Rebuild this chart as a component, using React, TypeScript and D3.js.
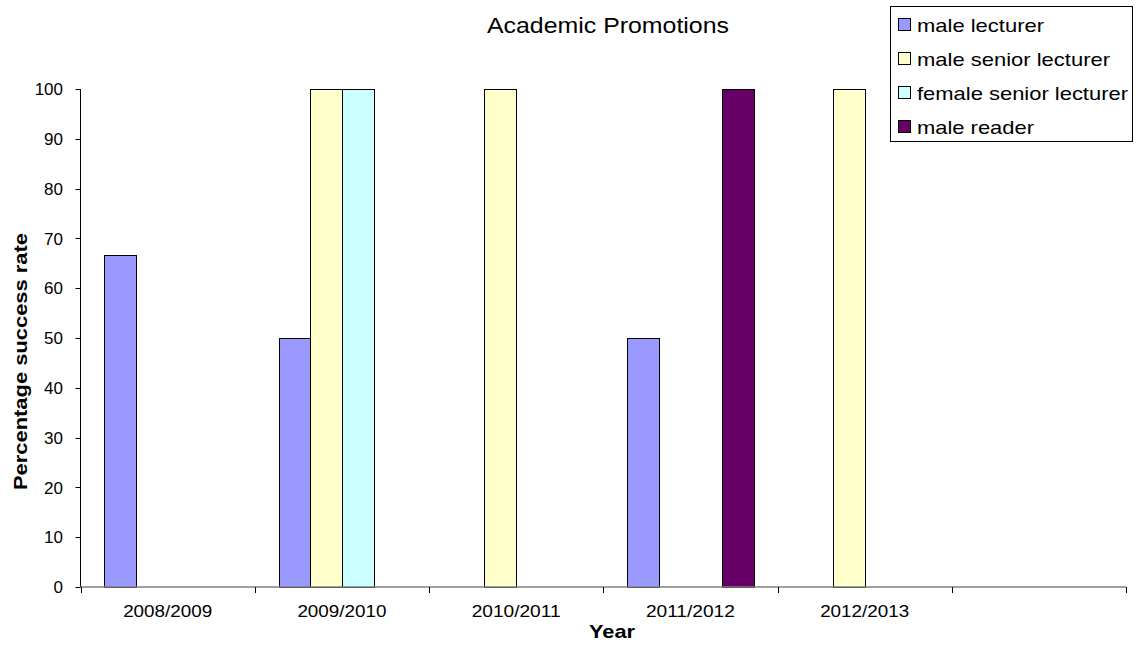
import React, {useEffect, useRef} from "react";
import * as d3 from "d3";

const years = ["2008/2009", "2009/2010", "2010/2011", "2011/2012", "2012/2013", ""];
const seriesNames = ["male lecturer", "male senior lecturer", "female senior lecturer", "male reader"];
const seriesColors = ["#9999FF", "#FFFFCC", "#CCFFFF", "#660066"];
// values per series, null = no bar
const maleLecturer = [66.7, 50, null, 50, null, null];
const maleSeniorLecturer = [null, 100, 100, null, 100, null];
const femaleSeniorLecturer = [null, 100, null, null, null, null];
const maleReader = [null, null, null, 100, null, null];
const yTicks = [0, 10, 20, 30, 40, 50, 60, 70, 80, 90, 100];
const legendWidths = [127, 193, 211, 117];

const App: React.FC = () => {
    const svgRef = useRef<SVGSVGElement | null>(null);

    useEffect(() => {
        if (!svgRef.current) return;
        const svg = d3.select(svgRef.current);
        svg.selectAll("*").remove();

        const font = "'Liberation Sans', Arial, sans-serif";
        const plot = {left: 80.5, right: 1126, top: 89, bottom: 587};
        const allSeries = [maleLecturer, maleSeniorLecturer, femaleSeniorLecturer, maleReader];

        const x = d3.scaleBand<string>()
            .domain(years.map((_, i) => String(i)))
            .range([plot.left, plot.right])
            .paddingInner(0)
            .paddingOuter(0);
        const x1 = d3.scaleBand<string>()
            .domain(seriesNames)
            .range([0, x.bandwidth()])
            .paddingOuter(0.75);
        const y = d3.scaleLinear().domain([0, 100]).range([plot.bottom, plot.top]);

        svg.append("rect").attr("width", 1142).attr("height", 650).attr("fill", "#fff");

        // bars
        allSeries.forEach((vals, si) => {
            svg.append("g")
                .selectAll("rect")
                .data(vals.map((v, i) => ({v, i})).filter((d) => d.v != null))
                .enter()
                .append("rect")
                .attr("x", (d) => Math.round((x(String(d.i)) ?? 0) + (x1(seriesNames[si]) ?? 0)) + 0.5)
                .attr("y", (d) => Math.round(y(d.v as number)) + 0.5)
                .attr("width", Math.round(x1.bandwidth()))
                .attr("height", (d) => Math.round(y(0)) - Math.round(y(d.v as number)))
                .attr("fill", seriesColors[si])
                .attr("stroke", "#000")
                .attr("stroke-width", 1);
        });

        // y axis
        const yAxis = svg.append("g");
        yAxis.append("line")
            .attr("x1", plot.left).attr("x2", plot.left)
            .attr("y1", plot.top).attr("y2", plot.bottom)
            .attr("stroke", "#000");
        yTicks.forEach((t) => {
            yAxis.append("line")
                .attr("x1", plot.left - 5).attr("x2", plot.left)
                .attr("y1", Math.round(y(t)) + 0.5).attr("y2", Math.round(y(t)) + 0.5)
                .attr("stroke", "#000");
            yAxis.append("text")
                .attr("x", 63)
                .attr("y", y(t))
                .attr("dy", "0.36em")
                .attr("text-anchor", "end")
                .style("font-family", font)
                .style("font-size", "17px")
                .text(t);
        });

        // x axis
        const xAxis = svg.append("g");
        xAxis.append("line")
            .attr("x1", plot.left).attr("x2", plot.right)
            .attr("y1", plot.bottom).attr("y2", plot.bottom)
            .attr("stroke", "#808080").attr("stroke-width", 1.5);
        d3.range(years.length + 1).forEach((i) => {
            const xp = Math.round(plot.left + i * x.bandwidth()) + 0.5;
            xAxis.append("line")
                .attr("x1", xp).attr("x2", xp)
                .attr("y1", plot.bottom).attr("y2", plot.bottom + 6)
                .attr("stroke", "#000");
        });
        years.filter((yr) => yr !== "").forEach((yr, i) => {
            xAxis.append("text")
                .attr("x", (x(String(i)) ?? 0) + x.bandwidth() / 2)
                .attr("y", 617)
                .attr("text-anchor", "middle")
                .attr("textLength", 89)
                .attr("lengthAdjust", "spacingAndGlyphs")
                .style("font-family", font)
                .style("font-size", "17px")
                .text(yr);
        });

        // titles
        svg.append("text")
            .attr("x", 487).attr("y", 33)
            .attr("textLength", 242)
            .attr("lengthAdjust", "spacingAndGlyphs")
            .style("font-family", font)
            .style("font-size", "22px")
            .text("Academic Promotions");
        svg.append("text")
            .attr("x", 589).attr("y", 638)
            .attr("textLength", 46)
            .attr("lengthAdjust", "spacingAndGlyphs")
            .style("font-family", font)
            .style("font-size", "19px")
            .style("font-weight", "bold")
            .text("Year");
        svg.append("text")
            .attr("transform", "translate(27, 490) rotate(-90)")
            .attr("textLength", 257)
            .attr("lengthAdjust", "spacingAndGlyphs")
            .style("font-family", font)
            .style("font-size", "18px")
            .style("font-weight", "bold")
            .text("Percentage success rate");

        // legend
        const legend = svg.append("g");
        legend.append("rect")
            .attr("x", 890.5).attr("y", 6.5)
            .attr("width", 242).attr("height", 135)
            .attr("fill", "#fff").attr("stroke", "#000");
        seriesNames.forEach((name, i) => {
            const cy = 25 + i * 34;
            legend.append("rect")
                .attr("x", 898.5).attr("y", cy - 6.5)
                .attr("width", 12).attr("height", 12)
                .attr("fill", seriesColors[i]).attr("stroke", "#000");
            legend.append("text")
                .attr("x", 917).attr("y", cy)
                .attr("dy", "0.36em")
                .attr("textLength", legendWidths[i])
                .attr("lengthAdjust", "spacingAndGlyphs")
                .style("font-family", font)
                .style("font-size", "19px")
                .text(name);
        });
    }, []);

    return (
        <svg
            ref={svgRef}
            width={1142}
            height={650}
            style={{position: "absolute", top: 0, left: 0, display: "block"}}
        />
    );
};

export default App;
